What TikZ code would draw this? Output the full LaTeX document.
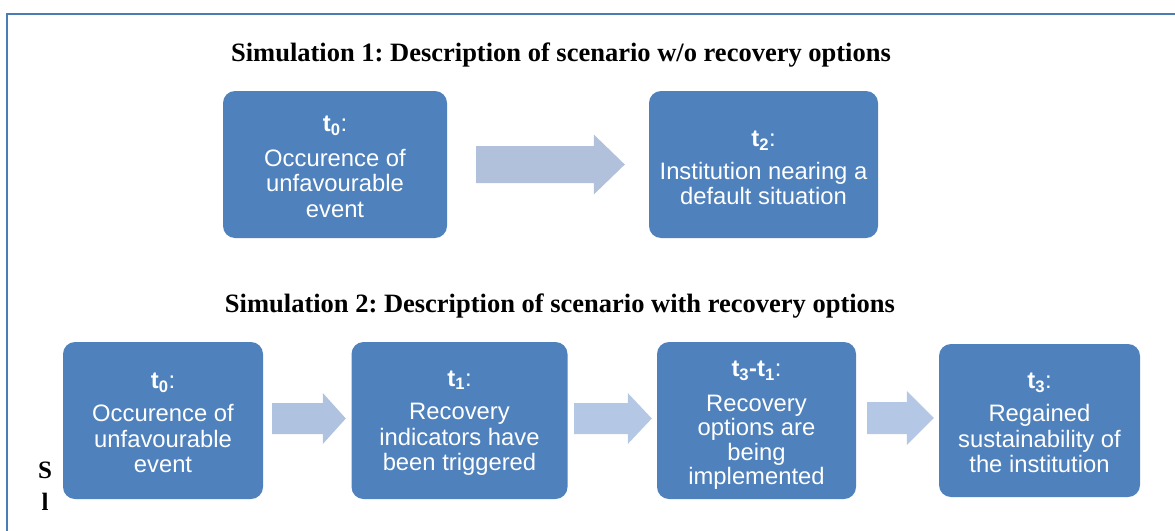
\documentclass[tikz,border=0pt]{standalone}
\usepackage{fontspec}
\setmainfont{Liberation Serif}
\setsansfont{Liberation Sans}
\frenchspacing
\usetikzlibrary{calc}
\definecolor{boxblue}{HTML}{4F81BD}
\definecolor{framec}{HTML}{4A7CB6}
\definecolor{arrtop}{HTML}{B1C1DC}
\definecolor{arrbota}{HTML}{AFC2DF}
\definecolor{arrbot}{HTML}{B4C8E5}
\tikzset{
  box/.style={draw=none, fill=boxblue, rounded corners=12pt, inner sep=0pt},
  boxtext/.style={text=white, align=center, yshift=-2.5pt, font=\sffamily\fontsize{23.8}{25.5}\selectfont},
  title/.style={font=\bfseries\fontsize{26.5}{28}\selectfont, inner sep=0pt}
}
\newcommand{\tl}[1]{\textbf{t\textsubscript{#1}}:}
% block arrow: #1 from node, #2 to node, #3 start gap, #4 tip gap, #5 head length, #6 body half, #7 head half, #8 colour, #9 y offset
\newcommand{\blockarr}[9]{%
  \fill[#8] let \p1=($(#1.east)+(#3,#9)$), \p2=($(#2.west)+(-#4,#9)$) in
    (\x1,\y1-#6) -- (\x2-#5,\y1-#6) -- (\x2-#5,\y1-#7) -- (\x2,\y1)
    -- (\x2-#5,\y1+#7) -- (\x2-#5,\y1+#6) -- (\x1,\y1+#6) -- cycle;}
\begin{document}
\begin{tikzpicture}[x=1pt,y=-1pt]
\useasboundingbox (0,0) rectangle (1175,530);
\draw[framec, line width=2.5pt] (1180,14) -- (7,14) -- (7,540);
\node[title] (t1) at (561,55) {Simulation 1: Description of scenario w/o recovery options};
\node[title] (t2) at (560,306) {Simulation 2: Description of scenario with recovery options};
% top row
\node[box, minimum width=224pt, minimum height=147pt] (a1) at (335,164.5) {};
\node[boxtext] at (a1) {\tl{0}\\[9pt]Occurence of\\unfavourable\\event};
\node[box, minimum width=229pt, minimum height=147pt] (a2) at (763.5,164.5) {};
\node[boxtext, yshift=-1pt] at (a2) {\tl{2}\\[7pt]Institution nearing a\\default situation};
% bottom row
\node[box, minimum width=200pt, minimum height=157pt] (b1) at (163,420.5) {};
\node[boxtext] at (b1) {\tl{0}\\[8pt]Occurence of\\unfavourable\\event};
\node[box, minimum width=216pt, minimum height=157pt] (b2) at (459.5,420.5) {};
\node[boxtext] at (b2) {\tl{1}\\[8pt]Recovery\\indicators have\\been triggered};
\node[box, minimum width=199pt, minimum height=157pt] (b3) at (756.5,420.5) {};
\node[boxtext, yshift=-2.5pt, font=\sffamily\fontsize{23.8}{24.5}\selectfont] at (b3) {\textbf{t\textsubscript{3}-t\textsubscript{1}}:\\[10pt]Recovery\\options are\\being\\implemented};
\node[box, minimum width=201pt, minimum height=153pt] (b4) at (1039.5,420.5) {};
\node[boxtext] at (b4) {\tl{3}\\[8pt]Regained\\sustainability of\\the institution};
% arrows
\blockarr{a1}{a2}{29}{24}{31}{18.5}{30}{arrtop}{0}
\blockarr{b1}{b2}{9}{5.5}{23}{15.5}{25.5}{arrbota}{-2}
\blockarr{b2}{b3}{6.5}{5}{24}{15.5}{25.5}{arrbot}{-2}
\blockarr{b3}{b4}{11}{5}{27}{16}{27}{arrbot}{-2.5}
% stray letters
\node[font=\bfseries\fontsize{25}{26}\selectfont, inner sep=0pt] (s1) at (45,470) {S};
\node[font=\bfseries\fontsize{25}{26}\selectfont, inner sep=0pt] (s2) at (45,502) {l};
\end{tikzpicture}
\end{document}
